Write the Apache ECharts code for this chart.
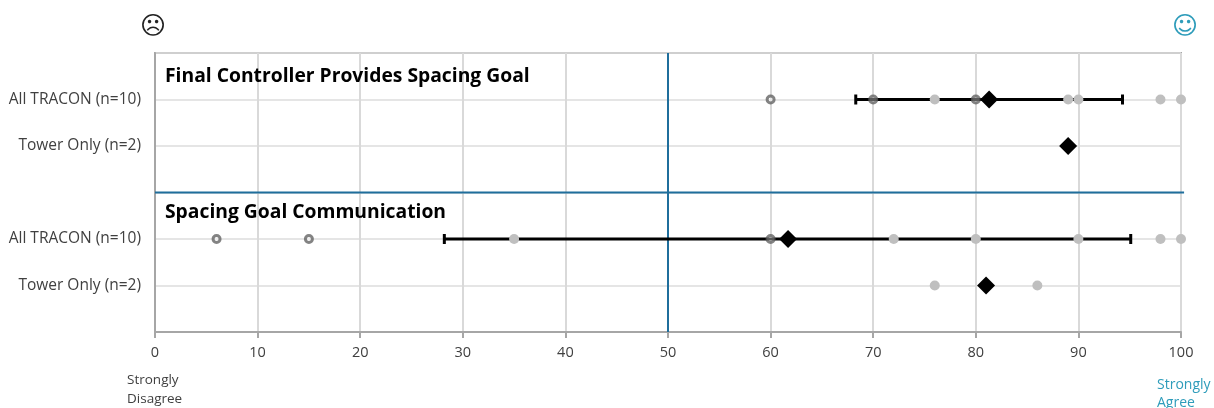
<!DOCTYPE html>
<html>
<head>
<meta charset="utf-8">
<style>html,body{margin:0;padding:0;background:#fff}#c{width:1214px;height:408px}</style>
<script src="https://cdn.jsdelivr.net/npm/echarts@6/dist/echarts.min.js"></script>
</head>
<body>
<div id="c"></div>
<script>
// Rows from bottom to top of the plot
const rowLabels = ['', 'Tower Only (n=2)', 'All TRACON (n=10)', '', 'Tower Only (n=2)', 'All TRACON (n=10)', ''];
const xTicks = [0, 10, 20, 30, 40, 50, 60, 70, 80, 90, 100];

const ringPoints = [[60, 5], [70, 5], [80, 5], [6, 2], [15, 2], [60, 2]];
const lightPoints = [[76, 5], [89, 5], [90, 5], [98, 5], [100, 5],
                     [35, 2], [72, 2], [80, 2], [90, 2], [98, 2], [100, 2],
                     [76, 1], [86, 1]];
const meanPoints = [[81.3, 5], [89, 4], [61.7, 2], [81, 1]];
const rangeUpper = [[68.3, 5], [94.3, 5]];
const rangeLower = [[28.2, 2], [95.1, 2]];
const midlineV = [[50, 0], [50, 6]];
const midlineH = [[0, 3], [100.3, 3]];

const font = '"Open Sans", "Noto Sans", sans-serif';
const blue = '#1F6E9C';
const teal = '#2E9CBA';

const chart = echarts.init(document.getElementById('c'), null, {renderer: 'canvas'});

function rangeSeries(data) {
  return {
    type: 'line', data, z: 3, silent: true,
    lineStyle: {color: '#000', width: 3},
    symbol: 'rect', symbolSize: [3, 10],
    itemStyle: {color: '#000'}
  };
}
function blueLine(data) {
  return {
    type: 'line', data, z: 2, silent: true, clip: false,
    symbol: 'none',
    lineStyle: {color: blue, width: 2}
  };
}

chart.setOption({
  animation: false,
  backgroundColor: '#fff',
  grid: {left: 155, right: 33, top: 53, bottom: 76, show: true,
         borderColor: '#A6A6A6', borderWidth: 2, backgroundColor: 'transparent'},
  xAxis: {
    type: 'value', min: 0, max: 100, interval: 10,
    axisLine: {show: true, lineStyle: {color: '#A6A6A6', width: 2}},
    axisTick: {show: true, length: 6, lineStyle: {color: '#A6A6A6', width: 2}},
    axisLabel: {color: '#404040', fontFamily: font, fontSize: 14.5, margin: 13,
                formatter: v => xTicks.includes(v) ? String(v) : ''},
    splitLine: {show: true, lineStyle: {color: '#D9D9D9', width: 2}}
  },
  yAxis: {
    type: 'category', data: rowLabels, boundaryGap: false,
    axisLine: {show: true, lineStyle: {color: '#A6A6A6', width: 2}},
    axisTick: {show: false},
    axisLabel: {color: '#404040', fontFamily: font, fontSize: 15.5, margin: 14, interval: 0},
    splitLine: {show: true, interval: 0, lineStyle: {color: '#DDDDDD', width: 1.5}}
  },
  series: [
    blueLine(midlineV),
    blueLine(midlineH),
    rangeSeries(rangeUpper),
    rangeSeries(rangeLower),
    {type: 'scatter', data: lightPoints, z: 4, symbol: 'circle', symbolSize: 10, clip: false,
     itemStyle: {color: '#BFBFBF', opacity: 1}},
    {type: 'scatter', data: ringPoints, z: 5, symbol: 'circle', symbolSize: 7, clip: false,
     itemStyle: {color: 'rgba(255,255,255,0.35)', borderColor: 'rgba(90,90,90,0.75)', borderWidth: 3, opacity: 1}},
    {type: 'scatter', data: meanPoints, z: 6, symbol: 'diamond', symbolSize: 18, clip: false,
     itemStyle: {color: '#000', opacity: 1}}
  ],
  graphic: [
    {type: 'text', left: 165, top: 67, z: 10,
     style: {text: 'Final Controller Provides Spacing Goal', fill: '#000', font: 'bold 19.3px ' + font}},
    {type: 'text', left: 165, top: 203, z: 10,
     style: {text: 'Spacing Goal Communication', fill: '#000', font: 'bold 19.3px ' + font}},
    {type: 'text', left: 140, top: 15, z: 10,
     style: {text: '\u2639', fill: '#222', font: '25px "DejaVu Sans"'}},
    {type: 'text', left: 1172, top: 15, z: 10,
     style: {text: '\u263A', fill: teal, font: '25px "DejaVu Sans"'}},
    {type: 'text', left: 127, top: 371, z: 10,
     style: {text: 'Strongly\nDisagree', fill: '#404040', align: 'center', lineHeight: 19, font: '13.5px ' + font}},
    {type: 'text', left: 1157, top: 376, z: 10,
     style: {text: 'Strongly\nAgree', fill: teal, align: 'center', lineHeight: 18, font: '14px ' + font}}
  ]
});
</script>
</body>
</html>
